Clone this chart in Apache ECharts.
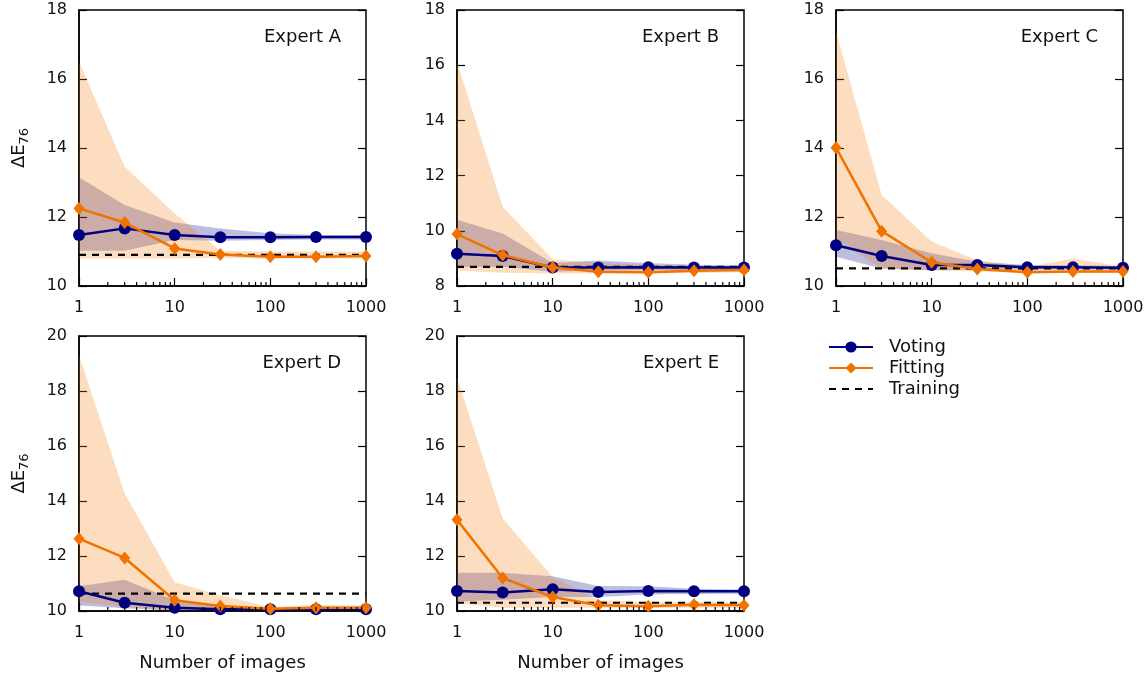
<!DOCTYPE html>
<html>
<head>
<meta charset="utf-8">
<script src="https://cdn.jsdelivr.net/npm/echarts@6/dist/echarts.min.js"></script>
<style>
  html, body { margin: 0; padding: 0; background: #fff; }
  #chart { width: 1148px; height: 675px; }
</style>
</head>
<body>
<div id="chart"></div>
<script>
// x positions (number of images)
const nImages = [1, 3, 10, 30, 100, 300, 1000];
const minorTicks = [2, 3, 4, 5, 6, 7, 8, 9, 20, 30, 40, 50, 60, 70, 80, 90, 200, 300, 400, 500, 600, 700, 800, 900];

const experts = ['Expert A', 'Expert B', 'Expert C', 'Expert D', 'Expert E'];
const yMin = [10, 8, 10, 10, 10];
const yMax = [18, 18, 18, 20, 20];

// one row per expert, values at nImages
const voting = [
  [11.48, 11.67, 11.48, 11.41, 11.41, 11.42, 11.42],
  [9.17, 9.09, 8.67, 8.67, 8.68, 8.67, 8.67],
  [11.18, 10.87, 10.61, 10.61, 10.54, 10.54, 10.53],
  [10.72, 10.30, 10.12, 10.06, 10.06, 10.06, 10.06],
  [10.73, 10.67, 10.79, 10.69, 10.73, 10.72, 10.72]
];
const votingLo = [
  [11.02, 11.02, 11.33, 11.31, 11.33, 11.35, 11.35],
  [8.70, 8.70, 8.52, 8.56, 8.58, 8.58, 8.58],
  [10.85, 10.51, 10.46, 10.48, 10.48, 10.48, 10.48],
  [10.20, 10.10, 10.02, 10.02, 10.02, 10.02, 10.02],
  [10.35, 10.41, 10.51, 10.51, 10.60, 10.62, 10.63]
];
const votingHi = [
  [13.15, 12.35, 11.84, 11.67, 11.53, 11.48, 11.48],
  [10.40, 9.90, 8.83, 8.92, 8.83, 8.77, 8.74],
  [11.62, 11.33, 10.95, 10.70, 10.61, 10.60, 10.58],
  [10.90, 11.14, 10.39, 10.15, 10.10, 10.10, 10.10],
  [11.39, 11.39, 11.26, 10.91, 10.90, 10.81, 10.78]
];
const fitting = [
  [12.25, 11.84, 11.09, 10.91, 10.85, 10.85, 10.87],
  [9.88, 9.12, 8.67, 8.52, 8.50, 8.55, 8.58],
  [14.01, 11.59, 10.69, 10.49, 10.40, 10.42, 10.42],
  [12.63, 11.93, 10.39, 10.18, 10.08, 10.12, 10.12],
  [13.32, 11.20, 10.51, 10.21, 10.17, 10.23, 10.21]
];
const fittingLo = [
  [10.80, 10.80, 10.80, 10.82, 10.80, 10.80, 10.80],
  [8.56, 8.48, 8.45, 8.45, 8.45, 8.47, 8.50],
  [11.38, 10.50, 10.45, 10.42, 10.38, 10.38, 10.38],
  [10.35, 10.15, 10.05, 10.03, 10.03, 10.05, 10.05],
  [10.27, 10.12, 10.12, 10.12, 10.12, 10.12, 10.12]
];
const fittingHi = [
  [16.50, 13.46, 12.10, 11.02, 11.00, 11.00, 11.00],
  [16.12, 10.87, 8.97, 8.83, 8.77, 8.72, 8.70],
  [17.37, 12.64, 11.29, 10.75, 10.56, 10.80, 10.56],
  [19.30, 14.27, 11.05, 10.57, 10.15, 10.22, 10.20],
  [18.50, 13.36, 11.24, 10.39, 10.33, 10.33, 10.33]
];
const training = [10.90, 8.69, 10.51, 10.63, 10.30];

const FONT = 'DejaVu Sans';
const NAVY = '#000080';
const ORANGE = '#f27200';

const grids = [
  { left: 79, top: 10, width: 287, height: 276 },
  { left: 457, top: 10, width: 287, height: 276 },
  { left: 836, top: 10, width: 287, height: 276 },
  { left: 79, top: 336, width: 287, height: 275 },
  { left: 457, top: 336, width: 287, height: 275 }
];

const chart = echarts.init(document.getElementById('chart'));

const xAxes = [], yAxes = [], series = [], titles = [];

grids.forEach((g, i) => {
  g.show = true;
  g.borderColor = '#000';
  g.borderWidth = 1.5;
  g.backgroundColor = 'transparent';

  const bottomRow = i >= 3;
  xAxes.push({
    type: 'log', logBase: 10, gridIndex: i, min: 1, max: 1000,
    axisLine: { show: true, lineStyle: { color: '#000', width: 1.5 } },
    axisTick: { show: true, inside: true, length: 8, lineStyle: { color: '#000', width: 1.2 } },
    axisLabel: { show: true, color: '#111', fontSize: 16, fontFamily: FONT, margin: 14, formatter: v => String(v) },
    splitLine: { show: false },
    name: bottomRow ? 'Number of images' : '',
    nameLocation: 'middle', nameGap: 43,
    nameTextStyle: { color: '#111', fontSize: 18, fontFamily: FONT }
  });

  const leftCol = i === 0 || i === 3;
  yAxes.push({
    type: 'value', gridIndex: i, min: yMin[i], max: yMax[i], interval: 2,
    axisLine: { show: true, lineStyle: { color: '#000', width: 1.5 } },
    axisTick: { show: true, inside: true, length: 8, lineStyle: { color: '#000', width: 1.2 } },
    axisLabel: { color: '#111', fontSize: 16, fontFamily: FONT, margin: 12 },
    splitLine: { show: false },
    name: leftCol ? '{a|ΔE}{s|76}' : '',
    nameLocation: 'middle', nameRotate: 90, nameGap: 48,
    nameTextStyle: {
      color: '#111', fontFamily: FONT,
      rich: {
        a: { fontSize: 18, fontFamily: FONT, color: '#111', lineHeight: 24, verticalAlign: 'middle' },
        s: { fontSize: 13, fontFamily: FONT, color: '#111', verticalAlign: 'bottom' }
      }
    }
  });
  yAxes.push({
    type: 'value', gridIndex: i, min: yMin[i], max: yMax[i], interval: 2, position: 'right',
    axisLine: { show: false },
    axisTick: { show: true, inside: true, length: 8, lineStyle: { color: '#000', width: 1.2 } },
    axisLabel: { show: false },
    splitLine: { show: false }
  });

  const xi = i, yi = i * 2;

  const band = (lo, hi, color) => ({
    type: 'custom', xAxisIndex: xi, yAxisIndex: yi, silent: true, z: 1,
    data: nImages.map((x, k) => [x, lo[k], hi[k]]),
    encode: { x: 0, y: [1, 2] },
    renderItem: (params, api) => {
      if (params.dataIndex !== 0) return null;
      const pts = [];
      nImages.forEach((x, k) => pts.push(api.coord([x, hi[k]])));
      for (let k = nImages.length - 1; k >= 0; k--) pts.push(api.coord([nImages[k], lo[k]]));
      return { type: 'polygon', shape: { points: pts }, style: { fill: color } };
    }
  });

  series.push(band(votingLo[i], votingHi[i], 'rgba(0,0,128,0.26)'));
  series.push(band(fittingLo[i], fittingHi[i], 'rgba(245,121,0,0.25)'));

  // minor log ticks on the bottom axis
  series.push({
    type: 'custom', xAxisIndex: xi, yAxisIndex: yi, silent: true, z: 6,
    data: minorTicks.map(v => [v, yMin[i]]),
    renderItem: (params, api) => {
      const p = api.coord([api.value(0), api.value(1)]);
      return { type: 'line', shape: { x1: p[0], y1: p[1], x2: p[0], y2: p[1] - 4 }, style: { stroke: '#000', lineWidth: 1.2 } };
    }
  });

  series.push({
    name: 'Training', type: 'line', xAxisIndex: xi, yAxisIndex: yi, z: 3,
    data: [[1, training[i]], [1000, training[i]]],
    symbol: 'none', silent: true,
    lineStyle: { color: '#000', width: 2.2, type: [7, 6] },
    itemStyle: { color: '#000' }
  });
  series.push({
    name: 'Voting', type: 'line', xAxisIndex: xi, yAxisIndex: yi, z: 4,
    data: nImages.map((x, k) => [x, voting[i][k]]),
    symbol: 'circle', symbolSize: 12, silent: true,
    lineStyle: { color: NAVY, width: 2.5 },
    itemStyle: { color: NAVY }
  });
  series.push({
    name: 'Fitting', type: 'line', xAxisIndex: xi, yAxisIndex: yi, z: 5,
    data: nImages.map((x, k) => [x, fitting[i][k]]),
    symbol: 'diamond', symbolSize: [11, 13], silent: true,
    lineStyle: { color: ORANGE, width: 2.5 },
    itemStyle: { color: ORANGE }
  });

  titles.push({
    text: experts[i],
    right: 1148 - (g.left + g.width - 25),
    top: g.top + 18,
    padding: 0,
    textStyle: { fontSize: 18, fontWeight: 'normal', fontFamily: FONT, color: '#111' }
  });
});

chart.setOption({
  animation: false,
  title: titles,
  grid: grids,
  xAxis: xAxes,
  yAxis: yAxes,
  legend: {
    data: ['Voting', 'Fitting', { name: 'Training', itemStyle: { opacity: 0 } }],
    orient: 'vertical',
    left: 823, top: 333,
    itemWidth: 44, itemHeight: 14, itemGap: 3,
    textStyle: { fontSize: 18, fontFamily: FONT, color: '#111', padding: [0, 0, 0, 11] },
    selectedMode: false
  },
  series: series
});
</script>
